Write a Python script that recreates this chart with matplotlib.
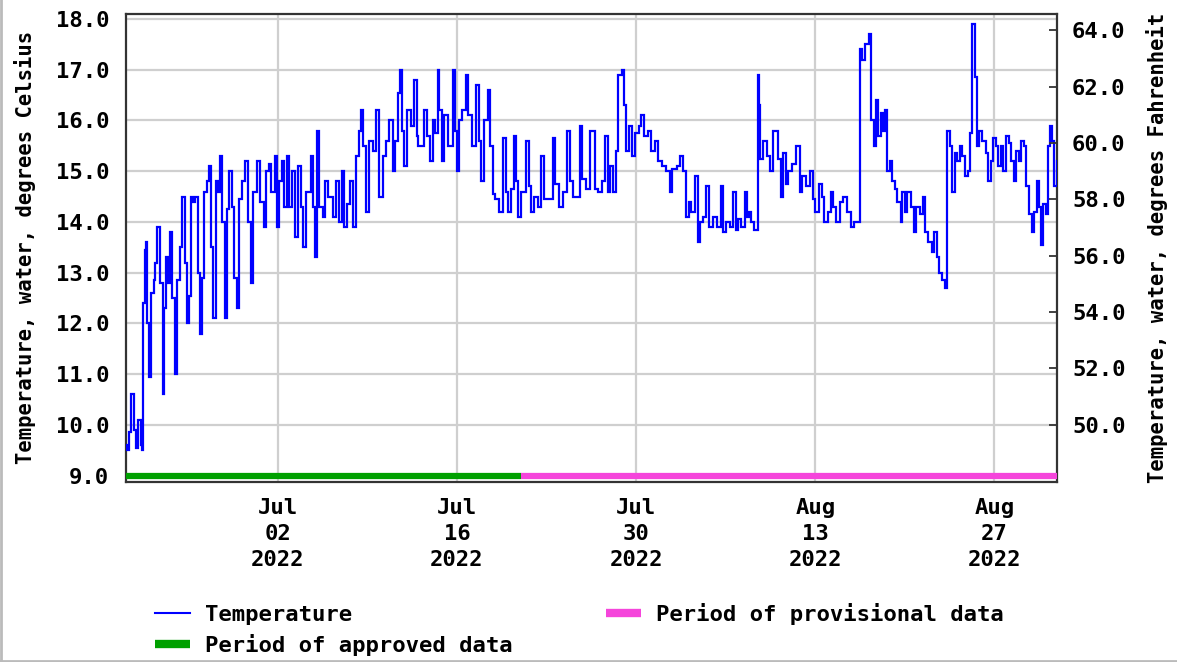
import matplotlib
matplotlib.use("Agg")
import matplotlib.pyplot as plt
import matplotlib.dates as mdates
from matplotlib.lines import Line2D
import pandas as pd

# ---------------- data ----------------
start = pd.Timestamp("2022-06-20 00:00")
approved_end = pd.Timestamp("2022-07-21 00:00")
x_start = pd.Timestamp("2022-06-20 03:00")
x_end = pd.Timestamp("2022-08-31 20:40")

# days since 2022-06-20 00:00
day_offsets = [
    0.0, 0.2, 0.35, 0.55, 0.8, 0.95, 1.1, 1.3, 1.42, 1.5, 1.6, 1.72, 1.8, 1.95,
    2.1, 2.3, 2.45, 2.6, 2.8, 3.0, 3.1, 3.3, 3.4, 3.55, 3.75, 3.95,
    4.1, 4.35, 4.55, 4.75, 4.95, 5.1, 5.25, 5.4, 5.55, 5.75, 5.95,
    6.1, 6.25, 6.45, 6.6, 6.8, 6.95, 7.15, 7.35, 7.5, 7.65, 7.85,
    8.0, 8.2, 8.4, 8.6, 8.85, 9.0, 9.2, 9.45, 9.7, 9.95,
    10.1, 10.4, 10.65, 10.9, 11.1, 11.3, 11.5, 11.8, 11.95,
    12.1, 12.3, 12.5, 12.7, 12.9, 13.1, 13.35, 13.55, 13.8, 14.0,
    14.2, 14.6, 14.75, 14.9, 15.05, 15.2, 15.5, 15.7, 15.9, 16.3, 16.55, 16.8,
    17.0, 17.15, 17.4, 17.65, 17.9, 18.1, 18.35, 18.5, 18.7, 18.9,
    19.1, 19.45, 19.7, 19.95, 20.2, 20.5, 20.7, 21.0, 21.2, 21.4, 21.55, 21.75, 21.9,
    22.1, 22.4, 22.65, 22.85, 23.0, 23.4, 23.65, 23.9, 24.1, 24.3, 24.5, 24.6, 24.8,
    25.0, 25.3, 25.7, 25.85, 26.0, 26.2, 26.4, 26.7, 26.9, 27.2, 27.5, 27.7, 27.9,
    28.1, 28.4, 28.6, 28.8, 29.0, 29.3, 29.6, 29.8, 30.0, 30.2, 30.5, 30.65, 30.8,
    31.0, 31.4, 31.6, 31.8, 32.0, 32.3, 32.6, 32.8, 33.1, 33.5, 33.7, 34.0,
    34.3, 34.6, 34.8, 35.1, 35.6, 35.8, 36.1, 36.4, 36.6, 36.8, 37.0, 37.3, 37.6, 37.8,
    38.0, 38.2, 38.4, 38.6, 38.9, 39.05, 39.2, 39.45, 39.7, 39.9, 40.2, 40.4, 40.6, 40.9,
    41.2, 41.5, 41.7, 42.0, 42.3, 42.65, 42.8, 43.2, 43.4, 43.7, 43.9,
    44.1, 44.3, 44.6, 44.8, 45.0, 45.2, 45.5, 45.7, 46.0, 46.3, 46.6, 46.8,
    47.0, 47.3, 47.6, 47.8, 48.0, 48.2, 48.5, 48.65, 48.8, 49.0, 49.2, 49.45,
    49.5, 49.6, 49.7, 49.9, 50.2, 50.5, 50.7, 50.95, 51.1, 51.3, 51.5, 51.7, 51.9,
    52.2, 52.5, 52.8, 53.0, 53.3, 53.6, 53.8, 54.0, 54.3, 54.5, 54.7,
    55.0, 55.2, 55.4, 55.6, 55.9, 56.2, 56.5, 56.8, 57.0, 57.4,
    57.5, 57.65, 57.9, 58.2, 58.35, 58.6, 58.75, 58.9, 59.1, 59.3, 59.45, 59.6, 59.8,
    60.0, 60.2, 60.4, 60.7, 60.8, 61.0, 61.2, 61.5, 61.7, 61.9, 62.2, 62.4, 62.6, 62.8,
    63.1, 63.3, 63.5, 63.7, 63.9, 64.1, 64.3, 64.5, 64.7, 64.9, 65.1, 65.3, 65.5, 65.7, 65.9,
    66.1, 66.25, 66.45, 66.6, 66.8, 67.0, 67.3, 67.5, 67.7, 67.9, 68.1, 68.3, 68.5, 68.7, 68.9,
    69.1, 69.3, 69.5, 69.7, 69.9, 70.1, 70.3, 70.5, 70.7, 70.9, 71.1, 71.3, 71.5, 71.6, 71.8,
    72.0, 72.15, 72.3, 72.5, 72.65, 72.86,
]

temp_c = [
    9.6, 9.5, 9.85, 10.6, 9.9, 9.55, 10.1, 9.6, 9.5, 12.4, 13.45, 13.6, 12.0, 10.95,
    12.6, 12.85, 13.2, 13.9, 12.8, 10.6, 12.3, 13.3, 12.8, 13.8, 12.5, 11.0,
    12.85, 13.5, 14.5, 13.2, 12.0, 12.55, 14.5, 14.4, 14.5, 13.0, 11.8,
    12.9, 14.6, 14.8, 15.1, 13.5, 12.1, 14.8, 14.6, 15.3, 14.0, 12.1,
    14.25, 15.0, 14.3, 12.9, 12.3, 14.45, 14.8, 15.2, 14.0, 12.8,
    14.6, 15.2, 14.4, 13.9, 15.0, 15.15, 14.6, 15.3, 13.9,
    14.8, 15.2, 14.3, 15.3, 14.3, 15.0, 13.7, 15.1, 14.3, 13.5,
    14.6, 15.3, 14.3, 13.3, 15.8, 14.3, 14.1, 14.8, 14.5, 14.1, 14.8, 14.0,
    15.0, 13.9, 14.35, 14.8, 13.9, 15.3, 15.8, 16.2, 15.5, 14.2,
    15.6, 15.4, 16.2, 14.5, 15.3, 15.6, 16.0, 15.0, 15.6, 16.55, 17.0, 15.8, 15.1,
    16.2, 15.9, 16.8, 15.7, 15.5, 16.2, 15.7, 15.2, 16.0, 15.75, 17.0, 16.2, 15.2,
    16.1, 15.5, 17.0, 15.8, 15.0, 16.0, 16.2, 16.9, 16.1, 15.5, 16.7, 15.6, 14.8,
    16.0, 16.6, 15.5, 14.55, 14.45, 14.2, 15.65, 14.6, 14.2, 14.65, 15.7, 14.8, 14.1,
    14.6, 15.6, 14.7, 14.2, 14.5, 14.3, 15.3, 14.45, 14.45, 15.65, 14.75, 14.3,
    14.6, 15.8, 14.8, 14.5, 15.9, 14.85, 14.65, 15.8, 15.8, 14.65, 14.6, 14.8, 15.7, 14.6,
    15.1, 14.6, 15.4, 16.9, 17.0, 16.3, 15.4, 15.9, 15.3, 15.75, 15.9, 16.1, 15.7, 15.8,
    15.4, 15.6, 15.2, 15.1, 15.0, 14.6, 15.05, 15.1, 15.3, 15.0, 14.1,
    14.4, 14.2, 14.9, 13.6, 14.0, 14.1, 14.7, 13.9, 14.1, 13.9, 14.7, 13.8,
    14.0, 13.9, 14.6, 13.85, 14.05, 13.9, 14.6, 14.1, 14.2, 14.0, 13.85, 13.85,
    16.9, 16.3, 15.25, 15.6, 15.3, 15.0, 15.8, 15.8, 15.25, 14.5, 15.35, 14.75, 15.0,
    15.15, 15.5, 14.6, 14.9, 14.7, 15.0, 14.45, 14.2, 14.75, 14.5, 14.0,
    14.2, 14.6, 14.3, 14.0, 14.4, 14.5, 14.2, 13.9, 14.0, 14.0,
    17.4, 17.2, 17.5, 17.7, 16.0, 15.5, 16.4, 15.7, 16.15, 15.8, 16.2, 15.0, 15.2,
    14.8, 14.65, 14.4, 14.0, 14.6, 14.2, 14.6, 14.3, 13.8, 14.3, 14.15, 14.5, 13.8, 13.6,
    13.4, 13.8, 13.3, 13.0, 12.85, 12.7, 15.8, 15.5, 14.6, 15.35, 15.2, 15.5, 15.3, 14.9, 15.0,
    15.75, 17.9, 16.85, 15.5, 15.8, 15.6, 15.35, 14.8, 15.2, 15.65, 15.5, 15.1, 15.5, 15.0, 15.7,
    15.55, 15.2, 14.8, 15.4, 15.2, 15.6, 15.5, 14.7, 14.15, 13.8, 14.2, 14.8, 14.3, 13.55, 14.35,
    14.15, 15.5, 15.9, 15.6, 14.7, 15.2,
]

x_tick_dates = ["2022-07-02", "2022-07-16", "2022-07-30", "2022-08-13", "2022-08-27"]
y_ticks_c = [9.0, 10.0, 11.0, 12.0, 13.0, 14.0, 15.0, 16.0, 17.0, 18.0]
y_ticks_f = [50.0, 52.0, 54.0, 56.0, 58.0, 60.0, 62.0, 64.0]

# ---------------- styling ----------------
FONT = "DejaVu Sans Mono"
FS = 16
LFS = 14.8
plt.rcParams["font.family"] = [FONT]
plt.rcParams["font.weight"] = "bold"

times = [start + pd.Timedelta(days=d) for d in day_offsets]

fig = plt.figure(figsize=(11.77, 6.62), dpi=100)
ax = fig.add_axes([0.1068, 0.2724, 0.7910, 0.7065])

ax.plot(times, temp_c, color="#0000ff", lw=1.6, drawstyle="steps-post",
        solid_joinstyle="miter", zorder=3)

# approval status bars
ax.plot([x_start, approved_end], [9.0, 9.0], color="#00a000", lw=4.5,
        solid_capstyle="butt", zorder=4, clip_on=False)
ax.plot([approved_end, x_end], [9.0, 9.0], color="#f545db", lw=4.5,
        solid_capstyle="butt", zorder=4, clip_on=False)

ax.set_xlim(x_start, x_end)
ax.set_ylim(8.88, 18.1)

ax.set_yticks(y_ticks_c)
ax.set_yticklabels([f"{v:.1f}" for v in y_ticks_c], fontsize=FS, fontweight="bold")
ax.tick_params(axis="y", length=0, pad=12)

ax.set_xticks([pd.Timestamp(d) for d in x_tick_dates])
ax.xaxis.set_major_formatter(mdates.DateFormatter("%b\n%d\n%Y"))
for lab in ax.get_xticklabels():
    lab.set_fontsize(FS)
    lab.set_fontweight("bold")
    lab.set_linespacing(1.35)
ax.tick_params(axis="x", length=0, pad=12)

ax.grid(True, color="#cfcfcf", lw=1.6, zorder=0)
ax.set_axisbelow(True)
for s in ax.spines.values():
    s.set_color("#333333")
    s.set_linewidth(1.6)

ax.set_ylabel("Temperature, water, degrees Celsius", fontsize=LFS,
              fontweight="bold", labelpad=14)

# right axis in Fahrenheit
ax2 = ax.twinx()
c0, c1 = ax.get_ylim()
ax2.set_ylim(c0 * 9 / 5 + 32, c1 * 9 / 5 + 32)
ax2.set_yticks(y_ticks_f)
ax2.set_yticklabels([f"{v:.1f}" for v in y_ticks_f], fontsize=FS, fontweight="bold")
ax2.tick_params(axis="y", direction="in", length=6, width=1.3, color="#333333", pad=11)
ax2.set_ylabel("Temperature, water, degrees Fahrenheit", fontsize=LFS,
               fontweight="bold", labelpad=15)
for s in ax2.spines.values():
    s.set_visible(False)

# legend
handles = [
    Line2D([], [], color="#0000ff", lw=1.5),
    Line2D([], [], color="#00a000", lw=6, solid_capstyle="butt"),
    Line2D([], [], color="#f545db", lw=6, solid_capstyle="butt"),
]
labels = ["Temperature", "Period of approved data", "Period of provisional data"]
fig.legend(handles, labels, loc="upper left", bbox_to_anchor=(0.1317, 0.089),
           bbox_transform=fig.transFigure, ncol=2, frameon=False,
           prop={"family": FONT, "weight": "bold", "size": FS},
           handlelength=1.58, handletextpad=0.68, columnspacing=4.2,
           labelspacing=0.38, borderaxespad=0, borderpad=0)

# thin light border of the image
fig.add_artist(Line2D([0.001, 0.001], [0, 1], transform=fig.transFigure,
                      color="#bbbbbb", lw=2))
fig.add_artist(Line2D([0, 1], [0.002, 0.002], transform=fig.transFigure,
                      color="#bbbbbb", lw=2))

fig.savefig("out.png", dpi=100)
